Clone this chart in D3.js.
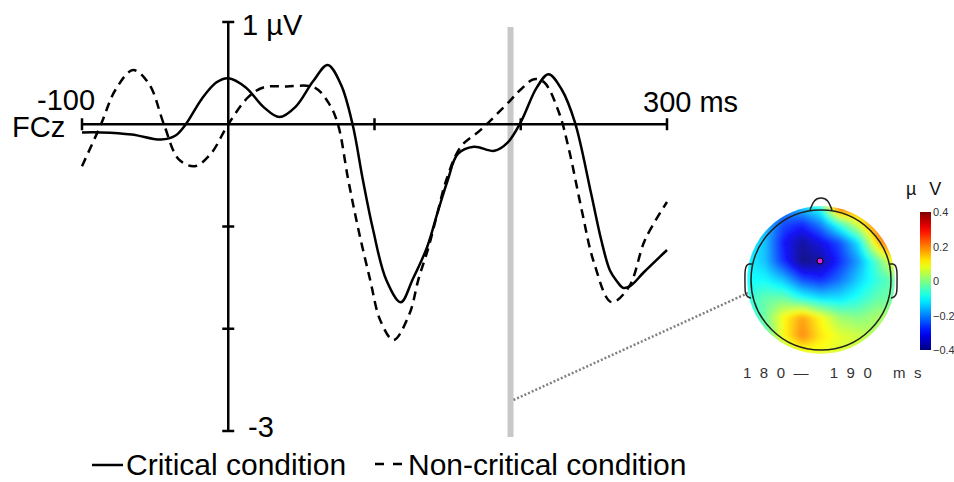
<!DOCTYPE html>
<html><head><meta charset="utf-8">
<script src="https://cdn.jsdelivr.net/npm/d3@7"></script>
<style>
body{margin:0;background:#fff}
svg{display:block}
text{font-family:"Liberation Sans",Arial,sans-serif}
</style>
</head><body>
<svg id="c" width="954" height="482"></svg>
<script>
// ---- data ----
const critTimes = [-100,-87,-66,-46,-36,-29,-18,-8,0,12,24,35,46,58,68,77,85,92,99,108,118,126,136,143,150,157,168,182,191,200,211,219,228,237,248,255,261,266,270,275,284,300];
const critValues = [-0.08,-0.08,-0.10,-0.15,-0.11,0,0.25,0.41,0.45,0.36,0.17,0.07,0.17,0.42,0.58,0.39,0,-0.54,-1.03,-1.52,-1.74,-1.52,-1.20,-0.87,-0.55,-0.29,-0.22,-0.26,-0.18,0.02,0.36,0.49,0.34,0.02,-0.67,-1.13,-1.43,-1.54,-1.60,-1.58,-1.45,-1.23];
const nonCritTimes = [-100,-87,-77,-65,-54,-44,-34,-23,-12,0,14,24,40,59,69,75,82,89,97,104,113,124,130,137,143,149,159,173,192,200,209,216,226,233,242,250,262,274,285,300];
const nonCritValues = [-0.41,0,0.34,0.53,0.39,0,-0.34,-0.41,-0.29,0,0.27,0.36,0.37,0.36,0.20,0,-0.54,-1.03,-1.52,-1.92,-2.11,-1.85,-1.52,-1.20,-0.87,-0.55,-0.22,-0.05,0.22,0.34,0.44,0.41,0.12,-0.25,-0.86,-1.35,-1.74,-1.59,-1.13,-0.76];
const xTicks = [-100,100,200,300];
const yTicks = [1,-1,-2,-3];
const markerTime = 193;
const legendLabels = ["Critical condition","Non-critical condition"];
// topographic map values (9x9 grid, rows top->bottom, cols left->right), µV
const topoGrid = [
  [-0.12,-0.15,-0.18,-0.12,-0.06, 0.30, 0.22, 0.10, 0.05],
  [-0.15,-0.15,-0.25,-0.28,-0.20,-0.06, 0.08, 0.25, 0.28],
  [-0.10,-0.15,-0.30,-0.38,-0.32,-0.25,-0.12, 0.14, 0.32],
  [-0.10,-0.15,-0.28,-0.40,-0.38,-0.28,-0.18,-0.04, 0.12],
  [-0.10,-0.10,-0.15,-0.25,-0.28,-0.22,-0.14,-0.07,-0.02],
  [-0.08,-0.03,-0.02,-0.08,-0.12,-0.12,-0.08,-0.03,-0.02],
  [-0.10,-0.02, 0.10, 0.18, 0.10, 0.02, 0.00, 0.03, 0.03],
  [-0.10,-0.05, 0.10, 0.20, 0.12, 0.08, 0.06, 0.03, 0.00],
  [-0.05,-0.03, 0.00, 0.06, 0.08, 0.07, 0.05, 0.02, 0.00]
];
const cbTicks = [0.4,0.2,0,-0.2,-0.4];
const cbLabels = ["0.4","0.2","0","\u22120.2","\u22120.4"];
const topoTitle = "\u00b5 V";
const topoTime = "180\u2014 190  ms";

// ---- chart ----
const svg = d3.select("#c");
const x = d3.scaleLinear().domain([-100,300]).range([82,667]);
const y = d3.scaleLinear().domain([-3,1]).range([431,22]);
const FS = 29;

// gray marker bar
svg.append("rect").attr("x", x(markerTime)-3).attr("y", 27).attr("width", 6).attr("height", 410).attr("fill","#c8c8c8");

// axes
const ax = svg.append("g").attr("stroke","#000").attr("stroke-width",2.5);
ax.append("line").attr("x1",x(-100)).attr("x2",x(300)).attr("y1",y(0)).attr("y2",y(0));
ax.append("line").attr("x1",x(0)).attr("x2",x(0)).attr("y1",y(1)).attr("y2",y(-3));
ax.selectAll(".xt").data(xTicks).enter().append("line")
  .attr("x1",d=>x(d)).attr("x2",d=>x(d)).attr("y1",y(0)-6).attr("y2",y(0)+6);
ax.selectAll(".yt").data(yTicks).enter().append("line")
  .attr("x1",x(0)-6).attr("x2",x(0)+6).attr("y1",d=>y(d)).attr("y2",d=>y(d));

// labels
svg.append("text").attr("x",242).attr("y",35).attr("font-size",FS).text("1 \u00b5V");
svg.append("text").attr("x",248).attr("y",y(-3)+6).attr("font-size",FS).text("-3");
svg.append("text").attr("x",37).attr("y",110).attr("font-size",FS).text("-100");
svg.append("text").attr("x",12).attr("y",137).attr("font-size",FS).text("FCz");
svg.append("text").attr("x",643).attr("y",112).attr("font-size",FS).text("300 ms");

// curves
const line = d3.line().x(d=>x(d[0])).y(d=>y(d[1])).curve(d3.curveCatmullRom.alpha(0.5));
svg.append("path").datum(critTimes.map((t,i)=>[t,critValues[i]]))
  .attr("d",line).attr("fill","none").attr("stroke","#000").attr("stroke-width",2.5);
svg.append("path").datum(nonCritTimes.map((t,i)=>[t,nonCritValues[i]]))
  .attr("d",line).attr("fill","none").attr("stroke","#000").attr("stroke-width",2.5).attr("stroke-dasharray","9,6");

// dotted connector
svg.append("line").attr("x1",x(markerTime)+3).attr("y1",400).attr("x2",748).attr("y2",293)
  .attr("stroke","#808080").attr("stroke-width",2.5).attr("stroke-dasharray","2,2");

// legend
svg.append("line").attr("x1",92).attr("x2",123).attr("y1",465).attr("y2",465).attr("stroke","#000").attr("stroke-width",2.5);
svg.append("text").attr("x",126).attr("y",475).attr("font-size",30).text(legendLabels[0]);
svg.append("line").attr("x1",375).attr("x2",403).attr("y1",464).attr("y2",464).attr("stroke","#000").attr("stroke-width",2.5).attr("stroke-dasharray","9,9");
svg.append("text").attr("x",408).attr("y",475).attr("font-size",30).text(legendLabels[1]);

// ---- topomap ----
const jet = d3.scaleLinear()
  .domain([-0.4,-0.3,-0.1,0.1,0.3,0.4])
  .range(["#00007f","#0000ff","#00ffff","#ffff00","#ff0000","#7f0000"])
  .clamp(true);
const cx = 821, cy = 280, R = 75, S = 2*R;
const cv = document.createElement("canvas"); cv.width = S; cv.height = S;
const ctx = cv.getContext("2d");
const im = ctx.createImageData(S,S);
const n = topoGrid.length - 1;
for (let py=0; py<S; py++) for (let px=0; px<S; px++) {
  const u = (px+0.5-R)/R, v = (py+0.5-R)/R;
  const gx = Math.max(0,Math.min(n-1e-6,(u+1)/2*n)), gy = Math.max(0,Math.min(n-1e-6,(v+1)/2*n));
  const i0 = Math.floor(gx), j0 = Math.floor(gy), fx = gx-i0, fy = gy-j0;
  const val = (topoGrid[j0][i0]*(1-fx)+topoGrid[j0][i0+1]*fx)*(1-fy) + (topoGrid[j0+1][i0]*(1-fx)+topoGrid[j0+1][i0+1]*fx)*fy;
  const c = d3.rgb(jet(val));
  const k = (py*S+px)*4;
  im.data[k]=c.r; im.data[k+1]=c.g; im.data[k+2]=c.b; im.data[k+3]=255;
}
ctx.putImageData(im,0,0);
const defs = svg.append("defs");
defs.append("clipPath").attr("id","headclip").append("circle").attr("cx",cx).attr("cy",cy).attr("r",74);
const blur = defs.append("filter").attr("id","soft").attr("x","-10%").attr("y","-10%").attr("width","120%").attr("height","120%");
blur.append("feGaussianBlur").attr("stdDeviation",2);
svg.append("g").attr("clip-path","url(#headclip)")
  .append("image").attr("href",cv.toDataURL()).attr("x",cx-R).attr("y",cy-R).attr("width",S).attr("height",S)
  .attr("filter","url(#soft)").attr("opacity",0.92);

const head = svg.append("g").attr("fill","none").attr("stroke","#222").attr("stroke-width",1.5);
head.append("circle").attr("cx",cx).attr("cy",cy).attr("r",70);
head.append("path").attr("d",`M${cx-11},${cy-70} C${cx-8},${cy-78} ${cx-6},${cy-82} ${cx},${cy-82} C${cx+6},${cy-82} ${cx+8},${cy-78} ${cx+11},${cy-70}`);
head.append("path").attr("d",`M${cx-69},${cy-16} L${cx-72},${cy-16} C${cx-77},${cy-15} ${cx-76},${cy-5} ${cx-76},${cy+5} C${cx-76},${cy+12} ${cx-76},${cy+17} ${cx-70},${cy+18}`);
head.append("path").attr("d",`M${cx+69},${cy-16} L${cx+72},${cy-16} C${cx+77},${cy-15} ${cx+76},${cy-5} ${cx+76},${cy+5} C${cx+76},${cy+12} ${cx+76},${cy+17} ${cx+70},${cy+18}`);
svg.append("circle").attr("cx",cx-1).attr("cy",cy-19).attr("r",3).attr("fill","#e020e0").attr("stroke","#000").attr("stroke-width",1);

// colorbar
const cb = d3.scaleLinear().domain([-0.4,0.4]).range([350,212]);
const grad = defs.append("linearGradient").attr("id","jetg").attr("x1",0).attr("y1",1).attr("x2",0).attr("y2",0);
d3.range(0,1.0001,0.05).forEach(t=>{
  grad.append("stop").attr("offset",t).attr("stop-color",jet(-0.4+0.8*t));
});
svg.append("rect").attr("x",920).attr("y",cb(0.4)).attr("width",11).attr("height",cb(-0.4)-cb(0.4)).attr("fill","url(#jetg)");
svg.selectAll(".cbt").data(cbTicks).enter().append("text")
  .attr("x",933).attr("y",d=>cb(d)+4).attr("font-size",11).attr("fill","#333")
  .text((d,i)=>cbLabels[i]);
svg.append("text").attr("x",906).attr("y",195).attr("font-size",18).attr("fill","#111").attr("letter-spacing",4).text(topoTitle);
svg.append("text").attr("x",743).attr("y",378).attr("font-size",15).attr("fill","#333").attr("letter-spacing",8.5).text(topoTime);
</script>
</body></html>
